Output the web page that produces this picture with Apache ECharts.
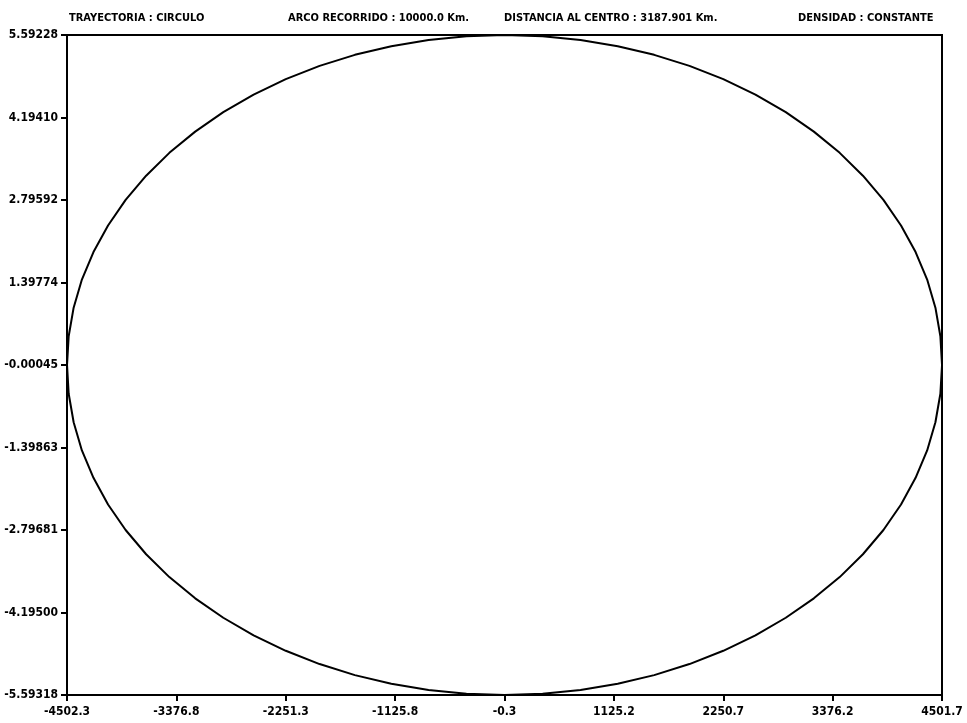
<!DOCTYPE html>
<html>
<head>
<meta charset="utf-8">
<script src="https://cdn.jsdelivr.net/npm/echarts@6/dist/echarts.min.js"></script>
<style>
  html, body { margin: 0; padding: 0; background: #fff; }
  #chart { width: 967px; height: 723px; }
</style>
</head>
<body>
<div id="chart"></div>
<script>
// Header captions
const headers = [
  'TRAYECTORIA : CIRCULO',
  'ARCO RECORRIDO : 10000.0 Km.',
  'DISTANCIA AL CENTRO : 3187.901 Km.',
  'DENSIDAD : CONSTANTE'
];

// Axis tick labels
const xTickLabels = ['-4502.3', '-3376.8', '-2251.3', '-1125.8', '-0.3', '1125.2', '2250.7', '3376.2', '4501.7'];
const yTickLabels = ['-5.59318', '-4.19500', '-2.79681', '-1.39863', '-0.00045', '1.39774', '2.79592', '4.19410', '5.59228'];

// Trajectory samples, one every 5 degrees around the orbit (x in Km, y)
const trajX = [
  4502, 4485, 4434, 4349, 4230, 4080, 3899, 3688, 3449, 3183, 2894, 2582, 2251, 1903, 1540, 1165, 782, 392, 0,
  -392, -782, -1165, -1540, -1903, -2251, -2582, -2894, -3183, -3449, -3688, -3899, -4080, -4230, -4349, -4434, -4485, -4502,
  -4485, -4434, -4349, -4230, -4080, -3899, -3688, -3449, -3183, -2894, -2582, -2251, -1903, -1540, -1165, -782, -392, 0,
  392, 782, 1165, 1540, 1903, 2251, 2582, 2894, 3183, 3449, 3688, 3899, 4080, 4230, 4349, 4434, 4485, 4502
];
const trajY = [
  0, 0.487, 0.971, 1.448, 1.913, 2.364, 2.797, 3.208, 3.595, 3.955, 4.284, 4.581, 4.844, 5.069, 5.256, 5.402, 5.508, 5.572, 5.593,
  5.572, 5.508, 5.402, 5.256, 5.069, 4.844, 4.581, 4.284, 3.955, 3.595, 3.208, 2.797, 2.364, 1.913, 1.448, 0.971, 0.487, 0,
  -0.487, -0.971, -1.448, -1.913, -2.364, -2.797, -3.208, -3.595, -3.955, -4.284, -4.581, -4.844, -5.069, -5.256, -5.402, -5.508, -5.572, -5.593,
  -5.572, -5.508, -5.402, -5.256, -5.069, -4.844, -4.581, -4.284, -3.955, -3.595, -3.208, -2.797, -2.364, -1.913, -1.448, -0.971, -0.487, 0
];

const xTicks = xTickLabels.map(Number);
const yTicks = yTickLabels.map(Number);
const points = trajX.map((x, i) => [x, trajY[i]]);

const font = 'DejaVu Sans Condensed, DejaVu Sans, sans-serif';
const headerLeft = [64, 283, 499, 793];

const chart = echarts.init(document.getElementById('chart'));
chart.setOption({
  backgroundColor: '#fff',
  animation: false,
  title: headers.map((t, i) => ({
    text: t,
    left: headerLeft[i],
    top: 8,
    textStyle: { fontFamily: font, fontSize: 11, fontWeight: 'bold', color: '#000' }
  })),
  grid: {
    left: 67, right: 25, top: 35, bottom: 28,
    show: true, borderColor: '#000', borderWidth: 2, backgroundColor: 'transparent'
  },
  xAxis: {
    type: 'value',
    min: xTicks[0],
    max: xTicks[xTicks.length - 1],
    splitLine: { show: false },
    axisLine: { show: true, onZero: false, lineStyle: { color: '#000', width: 2 } },
    axisTick: { show: true, customValues: xTicks, length: 6, lineStyle: { color: '#000', width: 2 } },
    axisLabel: {
      customValues: xTicks,
      formatter: v => xTickLabels[xTicks.indexOf(v)] ?? '',
      color: '#000', fontFamily: font, fontSize: 12, fontWeight: 'bold', margin: 11
    }
  },
  yAxis: {
    type: 'value',
    min: yTicks[0],
    max: yTicks[yTicks.length - 1],
    splitLine: { show: false },
    axisLine: { show: true, onZero: false, lineStyle: { color: '#000', width: 2 } },
    axisTick: { show: true, customValues: yTicks, length: 6, lineStyle: { color: '#000', width: 2 } },
    axisLabel: {
      customValues: yTicks,
      formatter: v => yTickLabels[yTicks.indexOf(v)] ?? '',
      color: '#000', fontFamily: font, fontSize: 12, fontWeight: 'bold', margin: 9
    }
  },
  series: [{
    type: 'line',
    data: points,
    smooth: false,
    showSymbol: false,
    lineStyle: { color: '#000', width: 2 }
  }]
});
</script>
</body>
</html>
